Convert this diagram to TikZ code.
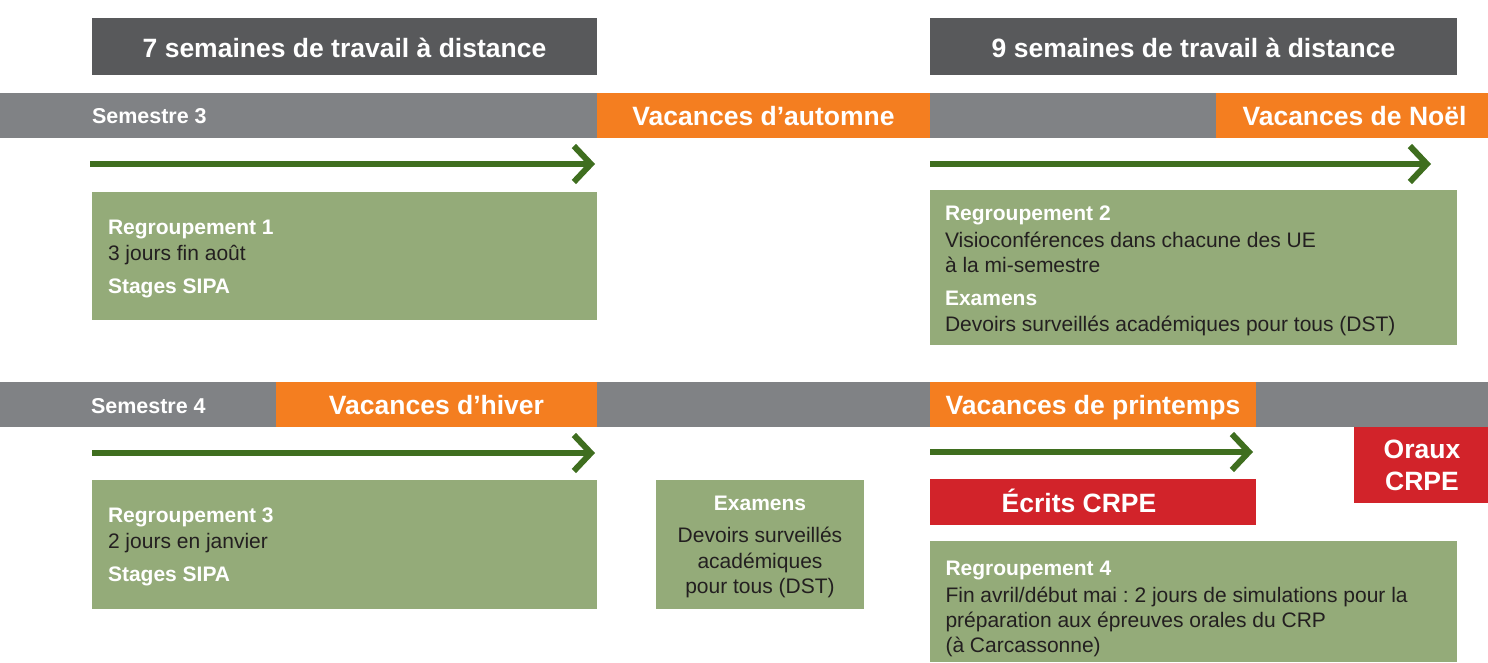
\documentclass[tikz,border=0pt]{standalone}
\usepackage{fontspec}
\setmainfont{Liberation Sans}
\usetikzlibrary{arrows.meta}
\definecolor{titlegray}{HTML}{58595B}
\definecolor{bandgray}{HTML}{808285}
\definecolor{vorange}{HTML}{F47E20}
\definecolor{boxgreen}{HTML}{94AB79}
\definecolor{arrowgreen}{HTML}{3F6E1F}
\definecolor{crpered}{HTML}{D2232A}
\definecolor{txtdark}{HTML}{231F20}
\frenchspacing
\begin{document}
\begin{tikzpicture}[x=1pt,y=-1pt,
  blk/.style={draw=none,inner sep=0,outer sep=0,anchor=north west},
  titlebox/.style={blk,fill=titlegray,minimum height=57pt},
  band/.style={blk,fill=bandgray,minimum width=1488pt,minimum height=45pt},
  vacbox/.style={blk,fill=vorange,minimum height=45pt},
  redbox/.style={blk,fill=crpered},
  greenbox/.style={blk,fill=boxgreen},
  lbl/.style={inner sep=0,outer sep=0,text depth=0pt},
  bigtxt/.style={lbl,text height=19pt,anchor=center,text=white,font=\fontsize{26.5}{30}\selectfont\bfseries},
  semtxt/.style={lbl,text height=15.4pt,anchor=west,text=white,font=\fontsize{21.5}{25}\selectfont\bfseries},
  headtxt/.style={lbl,text height=15pt,text=white,font=\fontsize{21}{24}\selectfont\bfseries},
  bodytxt/.style={lbl,text height=15pt,text=txtdark,font=\fontsize{21}{24}\selectfont},
  tlarrow/.style={draw=arrowgreen,line width=6pt,-{Straight Barb[length=17pt,width=36pt]}}
]
\useasboundingbox (0,0) rectangle (1488,662);

% titles
\node[titlebox,minimum width=505pt] (t1) at (92,18) {};
\node[bigtxt] (t1txt) at (344.5,47.5) {7 semaines de travail à distance};
\node[titlebox,minimum width=527pt] (t2) at (930,18) {};
\node[bigtxt] (t2txt) at (1193.5,47.5) {9 semaines de travail à distance};

% band 1
\node[band] (band1) at (0,93) {};
\node[vacbox,minimum width=333pt] (va) at (597,93) {};
\node[bigtxt] (vatxt) at (763.5,115.5) {Vacances d’automne};
\node[vacbox,minimum width=272pt] (vn) at (1216,93) {};
\node[bigtxt] (vntxt) at (1354.5,115.5) {Vacances de Noël};
\node[semtxt] (sem3) at (92,115.5) {Semestre 3};

% arrows row 1
\coordinate (a1s) at (90,164);
\coordinate (a1e) at (595,164);
\draw[tlarrow] (a1s) -- (a1e);
\coordinate (a2s) at (930,164);
\coordinate (a2e) at (1431,164);
\draw[tlarrow] (a2s) -- (a2e);

% green box 1
\node[greenbox,minimum width=505pt,minimum height=128pt] (g1) at (92,192) {};
\node[headtxt,anchor=west] (g1a) at (108,227) {Regroupement 1};
\node[bodytxt,anchor=west] (g1b) at (108,252.5) {3 jours fin août};
\node[headtxt,anchor=west] (g1c) at (108,285.5) {Stages SIPA};

% green box 2
\node[greenbox,minimum width=527pt,minimum height=155pt] (g2) at (930,190) {};
\node[headtxt,anchor=west] (g2a) at (945,212.5) {Regroupement 2};
\node[bodytxt,anchor=west] (g2b) at (945,239.5) {Visioconférences dans chacune des UE};
\node[bodytxt,anchor=west] (g2c) at (945,264.5) {à la mi-semestre};
\node[headtxt,anchor=west] (g2d) at (945,297.5) {Examens};
\node[bodytxt,anchor=west] (g2e) at (945,323.5) {Devoirs surveillés académiques pour tous (DST)};

% band 2
\node[band] (band2) at (0,382) {};
\node[vacbox,minimum width=321pt] (vh) at (276,382) {};
\node[bigtxt] (vhtxt) at (436.5,404.5) {Vacances d’hiver};
\node[vacbox,minimum width=326pt] (vp) at (930,382) {};
\node[bigtxt] (vptxt) at (1093,404.5) {Vacances de printemps};
\node[semtxt] (sem4) at (91,405.5) {Semestre 4};

% arrows row 2
\coordinate (a3s) at (92,453);
\coordinate (a3e) at (595,453);
\draw[tlarrow] (a3s) -- (a3e);
\coordinate (a4s) at (930,452);
\coordinate (a4e) at (1253,452);
\draw[tlarrow] (a4s) -- (a4e);

% red boxes
\node[redbox,minimum width=134pt,minimum height=75.5pt] (oraux) at (1354,427) {};
\node[bigtxt] (orauxa) at (1422,449) {Oraux};
\node[bigtxt] (orauxb) at (1422,481) {CRPE};
\node[redbox,minimum width=326pt,minimum height=45.5pt] (ecrits) at (930,479) {};
\node[bigtxt] (ecritstxt) at (1079,502.5) {Écrits CRPE};

% green box 3
\node[greenbox,minimum width=505pt,minimum height=128.5pt] (g3) at (92,480) {};
\node[headtxt,anchor=west] (g3a) at (108,515) {Regroupement 3};
\node[bodytxt,anchor=west] (g3b) at (108,540.5) {2 jours en janvier};
\node[headtxt,anchor=west] (g3c) at (108,573.5) {Stages SIPA};

% examens box
\node[greenbox,minimum width=208pt,minimum height=128.5pt] (gex) at (656,480) {};
\node[headtxt,anchor=center] (gexa) at (760,502.5) {Examens};
\node[bodytxt,anchor=center] (gexb) at (760,535) {Devoirs surveillés};
\node[bodytxt,anchor=center] (gexc) at (760,560.5) {académiques};
\node[bodytxt,anchor=center] (gexd) at (760,585.5) {pour tous (DST)};

% green box 4
\node[greenbox,minimum width=527pt,minimum height=121pt] (g4) at (930,541) {};
\node[headtxt,anchor=west] (g4a) at (945.5,567.5) {Regroupement 4};
\node[bodytxt,anchor=west] (g4b) at (945.5,594.5) {Fin avril/début mai : 2 jours de simulations pour la};
\node[bodytxt,anchor=west] (g4c) at (945.5,619.5) {préparation aux épreuves orales du CRP};
\node[bodytxt,anchor=west] (g4d) at (945.5,644.5) {(à Carcassonne)};
\end{tikzpicture}
\end{document}
